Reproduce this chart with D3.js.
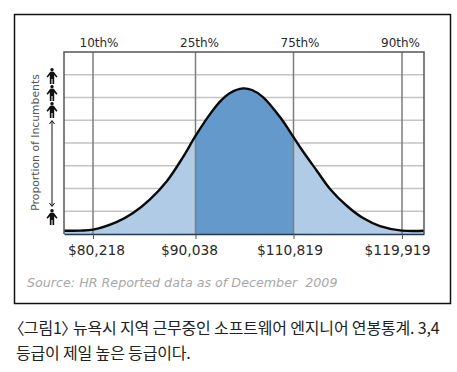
<!DOCTYPE html>
<html>
<head>
<meta charset="utf-8">
<script src="https://cdn.jsdelivr.net/npm/d3@7"></script>
<style>
  html, body { margin: 0; padding: 0; background: #fff; }
  svg { display: block; }
</style>
</head>
<body>
<svg id="chart"></svg>
<script>
// salary percentiles
var percentiles = ["10th%", "25th%", "75th%", "90th%"]
var salaries = [80218, 90038, 110819, 119919]
var salaryLabels = ["$80,218", "$90,038", "$110,819", "$119,919"]
var salaryMin = 77440, salaryMax = 121765

// bell curve, proportion in grid bands (0-8)
var curveSalary = [77440, 78973, 80218, 82517, 84050, 85679, 87307, 88840, 90038, 93113, 95233, 97353, 100109, 102017, 104349, 107953, 110819, 111532, 112790, 113881, 115307, 116650, 118076, 119919, 121765]
var curveShare = [0.14, 0.15, 0.19, 0.53, 0.92, 1.52, 2.33, 3.38, 4.31, 5.27, 5.82, 6.2, 6.4, 6.33, 6.02, 5.14, 4.26, 3.69, 2.77, 1.98, 1.23, 0.7, 0.35, 0.15, 0.14]
var gridBands = [1, 2, 3, 4, 5, 6, 7]

var figureBands = [6.95, 6.2, 5.45, 0.75]

var sourceText = "Source: HR Reported data as of December  2009"
var captionLines = ["〈그림1〉 뉴욕시 지역 근무중인 소프트웨어 엔지니어 연봉통계. 3,4", "등급이 제일 높은 등급이다."]

var width = 457, height = 372
var plot = {left: 64, right: 424, top: 52, bottom: 234}

// the original labels don't sit exactly centred on their lines
var topNudge = [5.5, 3.5, 6, -2]
var bottomNudge = [3, -6.5, -4, -5]

var svg = d3.select("#chart").attr("width", width).attr("height", height)

// salary axis isn't linear, the percentile lines are about evenly spread
var x = d3.scaleLinear()
  .domain([salaryMin].concat(salaries, [salaryMax]))
  .range([plot.left, 93, 195.5, 293.5, 402, plot.right])
var y = d3.scaleLinear().domain([0, 8]).range([plot.bottom, plot.top])

var curveData = curveSalary.map((d, i) => ({salary: d, share: curveShare[i]}))

// outer frame
svg.append("rect")
  .attr("x", 14.5).attr("y", 14.5)
  .attr("width", 436).attr("height", 289)
  .attr("fill", "none")
  .attr("stroke", "#111")
  .attr("stroke-width", 1.5)

// grid
svg.selectAll(".grid").data(gridBands).enter().append("line")
  .attr("class", "grid")
  .attr("x1", plot.left).attr("x2", plot.right)
  .attr("y1", d => y(d)).attr("y2", d => y(d))
  .attr("stroke", "#c4c4c4")
  .attr("stroke-width", 1.5)

// area under the curve, clipped into the bands
var area = d3.area()
  .x(d => x(d.salary))
  .y0(plot.bottom)
  .y1(d => y(d.share))
  .curve(d3.curveCatmullRom)

svg.append("path").datum(curveData)
  .attr("d", area)
  .attr("fill", "#b0cbe5")

svg.append("clipPath").attr("id", "middle").append("rect")
  .attr("x", x(salaries[1]))
  .attr("y", plot.top)
  .attr("width", x(salaries[2]) - x(salaries[1]))
  .attr("height", plot.bottom - plot.top)

svg.append("path").datum(curveData)
  .attr("d", area)
  .attr("fill", "#6499cc")
  .attr("clip-path", "url(#middle)")

// percentile lines
svg.selectAll(".pct").data(salaries).enter().append("line")
  .attr("class", "pct")
  .attr("x1", d => x(d)).attr("x2", d => x(d))
  .attr("y1", plot.top).attr("y2", plot.bottom)
  .attr("stroke", "#7d7d7d")
  .attr("stroke-width", 1.5)

// curve
svg.append("path").datum(curveData)
  .attr("d", d3.line().x(d => x(d.salary)).y(d => y(d.share)).curve(d3.curveCatmullRom))
  .attr("fill", "none")
  .attr("stroke", "#0a0a0a")
  .attr("stroke-width", 2.4)

// plot border
svg.append("path")
  .attr("d", "M" + plot.left + "," + plot.bottom + "V" + plot.top + "H" + plot.right + "V" + plot.bottom)
  .attr("fill", "none")
  .attr("stroke", "#555")
  .attr("stroke-width", 1.5)

// axes
var topAxis = d3.axisTop(x)
  .tickValues(salaries)
  .tickFormat((d, i) => percentiles[i])
  .tickSize(0)

var bottomAxis = d3.axisBottom(x)
  .tickValues(salaries)
  .tickFormat((d, i) => salaryLabels[i])
  .tickSizeInner(5)
  .tickSizeOuter(0)

var gTop = svg.append("g").attr("transform", "translate(0," + plot.top + ")").call(topAxis)
gTop.select(".domain").remove()
gTop.selectAll("text")
  .attr("x", (d, i) => topNudge[i])
  .attr("y", -5)
  .attr("dy", 0)
  .attr("font-family", "DejaVu Sans").attr("font-size", 12).attr("fill", "#2a2a2a")

var gBottom = svg.append("g").attr("transform", "translate(0," + plot.bottom + ")").call(bottomAxis)
gBottom.select(".domain")
  .attr("stroke", "#24364f").attr("stroke-width", 1.5)
gBottom.selectAll("line").attr("stroke", "#555")
gBottom.selectAll("text")
  .attr("x", (d, i) => bottomNudge[i])
  .attr("y", 21)
  .attr("dy", 0)
  .attr("font-family", "DejaVu Sans").attr("font-size", 13.8).attr("fill", "#2a2a2a")

// y axis title and the little people
svg.append("text")
  .attr("transform", "translate(38.5,142.5) rotate(-90)")
  .attr("text-anchor", "middle")
  .attr("font-family", "DejaVu Sans")
  .attr("font-size", 10.8)
  .attr("fill", "#555")
  .text("Proportion of Incumbents")

var figure = "M0,-8a1.7,1.7 0 1,1 -0.01,0ZM-1.8,-4.2H1.8L5.5,0.8L4.3,1.7L2.2,-0.8V8H0.5V3H-0.5V8H-2.2V-0.8L-4.3,1.7L-5.5,0.8Z"
svg.selectAll(".figure").data(figureBands).enter().append("path")
  .attr("class", "figure")
  .attr("transform", d => "translate(52," + y(d) + ")")
  .attr("d", figure)
  .attr("fill", "#111")

svg.append("path")
  .attr("d", "M52,121V206M49.5,124L52,120.5L54.5,124M49.5,203L52,206.5L54.5,203")
  .attr("fill", "none")
  .attr("stroke", "#111")
  .attr("stroke-width", 1)

// source note
svg.append("text")
  .attr("x", 27).attr("y", 287)
  .attr("font-family", "DejaVu Sans")
  .attr("font-style", "italic")
  .attr("font-size", 12.7)
  .attr("fill", "#a8a8a8")
  .style("white-space", "pre")
  .text(sourceText)

// caption
svg.selectAll(".caption").data(captionLines).enter().append("text")
  .attr("class", "caption")
  .attr("x", 16)
  .attr("y", (d, i) => 334 + i * 25)
  .attr("font-family", "Noto Sans CJK KR")
  .attr("font-size", 16)
  .attr("letter-spacing", -0.17)
  .attr("fill", "#222")
  .style("font-feature-settings", "'palt'")
  .text(d => d)
</script>
</body>
</html>
